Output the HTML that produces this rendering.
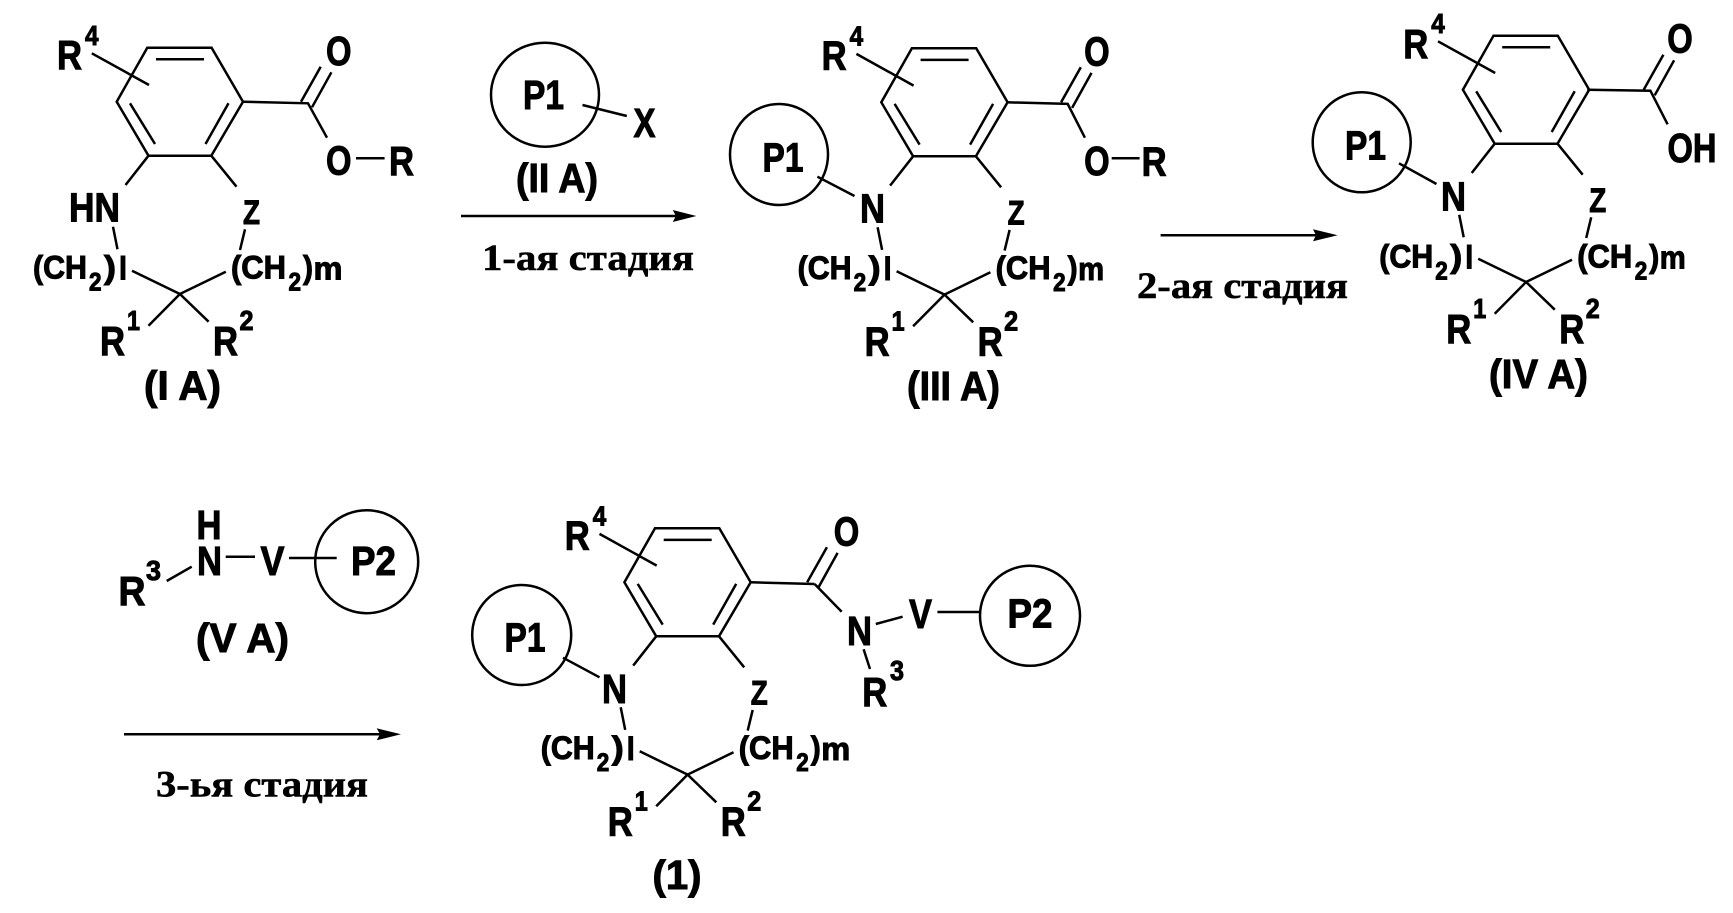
<!DOCTYPE html>
<html lang="ru">
<head>
<meta charset="utf-8">
<title>Reaction scheme</title>
<style>
html,body{margin:0;padding:0;background:#fff;width:1733px;height:913px;overflow:hidden}
svg{display:block}
.l{fill:none;stroke:#000;stroke-width:2.5;stroke-linecap:butt;stroke-linejoin:miter}
text{font-family:"Liberation Sans",sans-serif;font-weight:bold;fill:#000;stroke:#000;stroke-width:1}
.b{font-size:41px}
.m{font-size:32px}
.s{font-size:25px}
.d{font-size:28px}
.z{font-size:34px}
.c{font-family:"Liberation Serif",serif;font-size:37px;stroke-width:.5}
</style>
</head>
<body>
<svg width="1733" height="913" viewBox="0 0 1733 913" xmlns="http://www.w3.org/2000/svg">
<defs>
<path id="core" class="l" d="M147.3 47.7H211.6L243 101.7L211.3 155.7H148.5L116.7 101.7Z M156 59.3H204 M130 103.3L155 144 M228.5 103.3L205.5 144 M91.8 53.3L149 85 M148.5 155.7L125.5 185 M211.3 155.7L236.5 186.7 M113 226.7L117.5 249.3 M245 229.3L240 250 M132 270.7L179.9 294L225.8 271.7 M148.5 325.7L179.9 294L208.6 321.7"/>
<path id="acyl" class="l" d="M301 101.7L320.7 66.7 M312 107.3L331.4 72.3"/>
</defs>
<rect width="1733" height="913" fill="#fff"/>

<!-- I A -->
<g>
<use href="#core"/>
<use href="#acyl"/>
<path class="l" d="M243 101.7L308 103.3L327 137.7 M356 158.3H384.6"/>
<text class="b" x="57" y="69" textLength="25" lengthAdjust="spacingAndGlyphs">R</text>
<text class="d" x="85" y="45" textLength="13.5" lengthAdjust="spacingAndGlyphs">4</text>
<text class="b" x="326" y="65" textLength="25.5" lengthAdjust="spacingAndGlyphs">O</text>
<text class="b" x="326" y="174.5" textLength="25.5" lengthAdjust="spacingAndGlyphs">O</text>
<text class="b" x="389" y="175" textLength="25" lengthAdjust="spacingAndGlyphs">R</text>
<text class="b" x="69" y="221.5" textLength="51" lengthAdjust="spacingAndGlyphs">HN</text>
<text class="z" x="243" y="224" textLength="17" lengthAdjust="spacingAndGlyphs">Z</text>
<text class="m" x="33" y="278.5" textLength="54" lengthAdjust="spacingAndGlyphs">(CH</text>
<text class="s" x="89" y="290.5" textLength="12.5" lengthAdjust="spacingAndGlyphs">2</text>
<text class="m" x="104" y="278.5" textLength="12" lengthAdjust="spacingAndGlyphs">)</text>
<text class="m" x="119" y="279.5" textLength="8" lengthAdjust="spacingAndGlyphs">l</text>
<text class="m" x="231" y="278.5" textLength="55" lengthAdjust="spacingAndGlyphs">(CH</text>
<text class="s" x="288.5" y="290.5" textLength="12.5" lengthAdjust="spacingAndGlyphs">2</text>
<text class="m" x="303" y="278.5" textLength="10" lengthAdjust="spacingAndGlyphs">)</text>
<text class="m" x="313.5" y="279.5" textLength="29" lengthAdjust="spacingAndGlyphs">m</text>
<text class="b" x="100" y="355" textLength="25" lengthAdjust="spacingAndGlyphs">R</text>
<text class="d" x="127" y="330" textLength="13" lengthAdjust="spacingAndGlyphs">1</text>
<text class="b" x="213" y="355" textLength="25" lengthAdjust="spacingAndGlyphs">R</text>
<text class="d" x="239.5" y="330" textLength="14" lengthAdjust="spacingAndGlyphs">2</text>
<text class="b" x="144" y="399.5" textLength="77" lengthAdjust="spacingAndGlyphs">(I A)</text>
</g>

<!-- II A + arrow 1 -->
<ellipse class="l" cx="545" cy="94.7" rx="54" ry="52"/>
<text class="b" x="523" y="109" textLength="41" lengthAdjust="spacingAndGlyphs">P1</text>
<path class="l" d="M582.5 105L626.8 116"/>
<text class="b" x="633.5" y="137" textLength="22" lengthAdjust="spacingAndGlyphs">X</text>
<text class="b" x="516" y="192" textLength="82" lengthAdjust="spacingAndGlyphs">(II A)</text>
<path class="l" d="M461 216H680"/>
<path d="M672.7 210L696.4 216L672.7 222L676 216Z" fill="#000"/>
<text class="c" x="482" y="270" textLength="212" lengthAdjust="spacingAndGlyphs">1-ая стадия</text>

<!-- III A -->
<g transform="translate(764.6 0.6)">
<use href="#core"/>
<use href="#acyl" transform="translate(-4.5 0)"/>
<path class="l" d="M241.5 101.7L303.1 103.3L320.3 137.1 M347.1 157.7H375"/>
<text class="b" x="57" y="69" textLength="25" lengthAdjust="spacingAndGlyphs">R</text>
<text class="d" x="85" y="45" textLength="13.5" lengthAdjust="spacingAndGlyphs">4</text>
<text class="b" x="319.5" y="65" textLength="25.5" lengthAdjust="spacingAndGlyphs">O</text>
<text class="b" x="319.5" y="174.5" textLength="25.5" lengthAdjust="spacingAndGlyphs">O</text>
<text class="b" x="377" y="175" textLength="25" lengthAdjust="spacingAndGlyphs">R</text>
<text class="z" x="243" y="224" textLength="17" lengthAdjust="spacingAndGlyphs">Z</text>
<text class="m" x="33" y="278.5" textLength="54" lengthAdjust="spacingAndGlyphs">(CH</text>
<text class="s" x="89" y="290.5" textLength="12.5" lengthAdjust="spacingAndGlyphs">2</text>
<text class="m" x="104" y="278.5" textLength="12" lengthAdjust="spacingAndGlyphs">)</text>
<text class="m" x="119" y="279.5" textLength="8" lengthAdjust="spacingAndGlyphs">l</text>
<text class="m" x="231" y="278.5" textLength="55" lengthAdjust="spacingAndGlyphs">(CH</text>
<text class="s" x="288.5" y="290.5" textLength="12.5" lengthAdjust="spacingAndGlyphs">2</text>
<text class="m" x="303" y="278.5" textLength="10" lengthAdjust="spacingAndGlyphs">)</text>
<text class="m" x="313.5" y="279.5" textLength="26" lengthAdjust="spacingAndGlyphs">m</text>
<text class="b" x="100" y="355" textLength="25" lengthAdjust="spacingAndGlyphs">R</text>
<text class="d" x="127" y="330" textLength="13" lengthAdjust="spacingAndGlyphs">1</text>
<text class="b" x="213" y="355" textLength="25" lengthAdjust="spacingAndGlyphs">R</text>
<text class="d" x="239.5" y="330" textLength="14" lengthAdjust="spacingAndGlyphs">2</text>
</g>
<ellipse class="l" cx="779" cy="154.5" rx="49" ry="50.5"/>
<text class="b" x="762.5" y="171.5" textLength="41" lengthAdjust="spacingAndGlyphs">P1</text>
<path class="l" d="M817.4 176.7L854.5 196"/>
<text class="b" x="860" y="222.5" textLength="25" lengthAdjust="spacingAndGlyphs">N</text>
<text class="b" x="907" y="400" textLength="93" lengthAdjust="spacingAndGlyphs">(III A)</text>

<!-- arrow 2 -->
<path class="l" d="M1160.6 235.3H1320"/>
<path d="M1313 229.3L1337.7 235.3L1313 241.3L1316 235.3Z" fill="#000"/>
<text class="c" x="1137" y="298" textLength="211" lengthAdjust="spacingAndGlyphs">2-ая стадия</text>

<!-- IV A -->
<g transform="translate(1346.2 -12)">
<use href="#core"/>
<use href="#acyl" transform="translate(-3.5 0)"/>
<path class="l" d="M241 101.7L304.2 102.7L321.4 136.3"/>
<text class="b" x="57" y="70" textLength="25" lengthAdjust="spacingAndGlyphs">R</text>
<text class="d" x="85" y="45" textLength="13.5" lengthAdjust="spacingAndGlyphs">4</text>
<text class="b" x="321" y="64.5" textLength="25.5" lengthAdjust="spacingAndGlyphs">O</text>
<text class="z" x="243" y="224" textLength="17" lengthAdjust="spacingAndGlyphs">Z</text>
<text class="m" x="33" y="279.5" textLength="54" lengthAdjust="spacingAndGlyphs">(CH</text>
<text class="s" x="89" y="291.5" textLength="12.5" lengthAdjust="spacingAndGlyphs">2</text>
<text class="m" x="104" y="279.5" textLength="12" lengthAdjust="spacingAndGlyphs">)</text>
<text class="m" x="119" y="280.5" textLength="8" lengthAdjust="spacingAndGlyphs">l</text>
<text class="m" x="231" y="279.5" textLength="55" lengthAdjust="spacingAndGlyphs">(CH</text>
<text class="s" x="288.5" y="291.5" textLength="12.5" lengthAdjust="spacingAndGlyphs">2</text>
<text class="m" x="303" y="279.5" textLength="10" lengthAdjust="spacingAndGlyphs">)</text>
<text class="m" x="313.5" y="280.5" textLength="26" lengthAdjust="spacingAndGlyphs">m</text>
<text class="b" x="100" y="355" textLength="25" lengthAdjust="spacingAndGlyphs">R</text>
<text class="d" x="127" y="330" textLength="13" lengthAdjust="spacingAndGlyphs">1</text>
<text class="b" x="213" y="355" textLength="25" lengthAdjust="spacingAndGlyphs">R</text>
<text class="d" x="239.5" y="330" textLength="14" lengthAdjust="spacingAndGlyphs">2</text>
</g>
<text class="b" x="1667.5" y="162" textLength="49" lengthAdjust="spacingAndGlyphs">OH</text>
<ellipse class="l" cx="1361.7" cy="142.3" rx="49" ry="50"/>
<text class="b" x="1345" y="159.3" textLength="41" lengthAdjust="spacingAndGlyphs">P1</text>
<path class="l" d="M1399 163.3L1436.5 184"/>
<text class="b" x="1441" y="210.5" textLength="25" lengthAdjust="spacingAndGlyphs">N</text>
<text class="b" x="1489" y="388" textLength="99" lengthAdjust="spacingAndGlyphs">(IV A)</text>

<!-- V A -->
<text class="b" x="196.5" y="539" textLength="25" lengthAdjust="spacingAndGlyphs">H</text>
<text class="b" x="197" y="575" textLength="25" lengthAdjust="spacingAndGlyphs">N</text>
<text class="b" x="118.5" y="605" textLength="27" lengthAdjust="spacingAndGlyphs">R</text>
<text class="d" x="146" y="580" textLength="15" lengthAdjust="spacingAndGlyphs">3</text>
<path class="l" d="M166.7 581L191.7 566.7 M225.7 556.7H255 M289 558H336.7"/>
<text class="b" x="260.5" y="575" textLength="24" lengthAdjust="spacingAndGlyphs">V</text>
<ellipse class="l" cx="366.7" cy="561.7" rx="51.5" ry="51.5"/>
<text class="b" x="351" y="575" textLength="45" lengthAdjust="spacingAndGlyphs">P2</text>
<text class="b" x="196" y="652" textLength="93" lengthAdjust="spacingAndGlyphs">(V A)</text>

<!-- arrow 3 -->
<path class="l" d="M124 734.3H384"/>
<path d="M376.7 728.3L401 734.3L376.7 740.3L380 734.3Z" fill="#000"/>
<text class="c" x="156" y="796.7" textLength="212" lengthAdjust="spacingAndGlyphs">3-ья стадия</text>

<!-- Product 1 -->
<g transform="translate(507.7 480.6)">
<use href="#core"/>
<use href="#acyl" transform="translate(-1.5 0)"/>
<path class="l" d="M243 101.7L306.9 103.4"/>
<text class="b" x="57" y="69" textLength="25" lengthAdjust="spacingAndGlyphs">R</text>
<text class="d" x="85" y="45" textLength="13.5" lengthAdjust="spacingAndGlyphs">4</text>
<text class="b" x="326" y="65" textLength="25.5" lengthAdjust="spacingAndGlyphs">O</text>
<text class="z" x="243" y="224" textLength="17" lengthAdjust="spacingAndGlyphs">Z</text>
<text class="m" x="33" y="278.5" textLength="54" lengthAdjust="spacingAndGlyphs">(CH</text>
<text class="s" x="89" y="290.5" textLength="12.5" lengthAdjust="spacingAndGlyphs">2</text>
<text class="m" x="104" y="278.5" textLength="12" lengthAdjust="spacingAndGlyphs">)</text>
<text class="m" x="119" y="279.5" textLength="8" lengthAdjust="spacingAndGlyphs">l</text>
<text class="m" x="231" y="278.5" textLength="55" lengthAdjust="spacingAndGlyphs">(CH</text>
<text class="s" x="288.5" y="290.5" textLength="12.5" lengthAdjust="spacingAndGlyphs">2</text>
<text class="m" x="303" y="278.5" textLength="10" lengthAdjust="spacingAndGlyphs">)</text>
<text class="m" x="313.5" y="279.5" textLength="29" lengthAdjust="spacingAndGlyphs">m</text>
<text class="b" x="100" y="355" textLength="25" lengthAdjust="spacingAndGlyphs">R</text>
<text class="d" x="127" y="330" textLength="13" lengthAdjust="spacingAndGlyphs">1</text>
<text class="b" x="213" y="355" textLength="25" lengthAdjust="spacingAndGlyphs">R</text>
<text class="d" x="239.5" y="330" textLength="14" lengthAdjust="spacingAndGlyphs">2</text>
</g>
<path class="l" d="M814.6 584L841.7 611.7 M875.8 624L902.6 616.7 M937.4 612H980.3 M863.6 649.3L870 669 M563 657.7L599.5 677.3"/>
<text class="b" x="847" y="645" textLength="25" lengthAdjust="spacingAndGlyphs">N</text>
<text class="b" x="909" y="628" textLength="23" lengthAdjust="spacingAndGlyphs">V</text>
<ellipse class="l" cx="1030" cy="615.8" rx="50" ry="50"/>
<text class="b" x="1007.5" y="627.3" textLength="45" lengthAdjust="spacingAndGlyphs">P2</text>
<text class="b" x="862.3" y="706" textLength="25" lengthAdjust="spacingAndGlyphs">R</text>
<text class="d" x="890" y="680" textLength="14" lengthAdjust="spacingAndGlyphs">3</text>
<ellipse class="l" cx="521.7" cy="635" rx="49.5" ry="50"/>
<text class="b" x="504.5" y="651.7" textLength="41" lengthAdjust="spacingAndGlyphs">P1</text>
<text class="b" x="602" y="703" textLength="25" lengthAdjust="spacingAndGlyphs">N</text>
<text class="b" x="652.5" y="889" textLength="49" lengthAdjust="spacingAndGlyphs">(1)</text>
</svg>
</body>
</html>
